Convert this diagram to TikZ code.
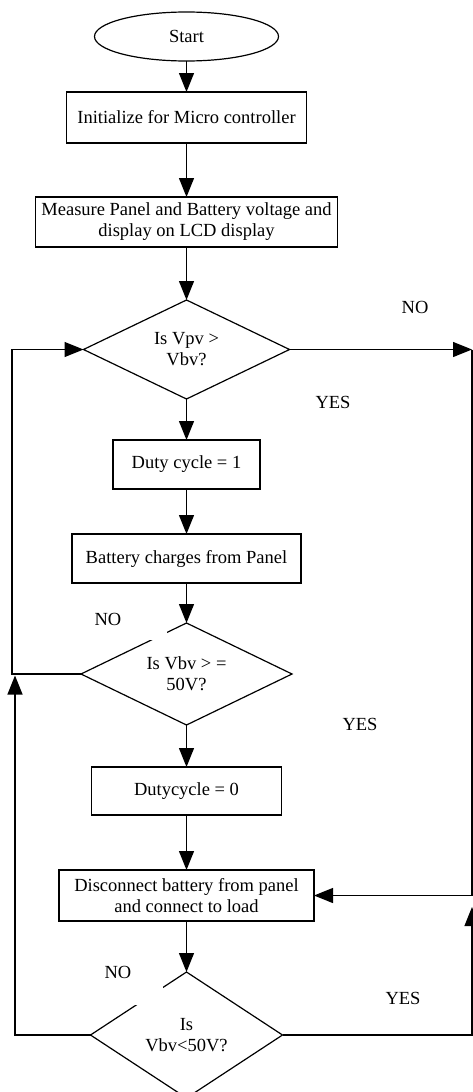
\documentclass[tikz,border=0pt]{standalone}
\usepackage{fontspec}
\setmainfont{Liberation Serif}
\usepackage{tikz}
\usetikzlibrary{arrows.meta,positioning,shapes.geometric}

\begin{document}
\begin{tikzpicture}[
  x=1pt, y=1pt,
  font=\fontsize{18.5}{21}\selectfont,
  line width=1.2pt,
  every node/.style={outer sep=0pt},
  term/.style={ellipse, draw, minimum width=184pt, minimum height=49pt, inner sep=1pt},
  stage/.style={rectangle, draw, align=center, minimum height=50pt, inner sep=2pt},
  test/.style={diamond, draw, aspect=2, align=center, inner sep=1pt},
  answer/.style={inner sep=0pt},
  arrow/.style={-{Triangle[length=19pt, width=15pt]}}
]
\useasboundingbox (0,0) rectangle (473,-1092);
\node[term] (start) at (186.5,-36.5) {Start};
\node[stage, minimum width=240pt, minimum height=51pt, below=31pt of start] (init) {Initialize for Micro controller};
\node[stage, minimum width=302pt, below=54pt of init] (meas) {Measure Panel and Battery voltage and\\display on LCD display};
\node[test, minimum width=206pt, minimum height=99pt, below=53pt of meas] (d1) {Is Vpv >\\Vbv?};
\node[stage, minimum width=147pt, minimum height=49pt, below=41pt of d1] (duty1) {Duty cycle = 1};
\node[stage, minimum width=229pt, minimum height=49pt, below=45pt of duty1] (charge) {Battery charges from Panel};
\node[test, minimum width=211pt, minimum height=102pt, below=40pt of charge] (d2) {Is Vbv > =\\50V?};
\node[stage, minimum width=190pt, minimum height=48pt, below=42pt of d2] (duty0) {Dutycycle = 0};
\node[stage, minimum width=255pt, minimum height=51pt, below=55pt of duty0] (disc) {Disconnect battery from panel\\and connect to load};
\node[test, aspect=1.5, minimum width=192pt, minimum height=126pt, below=51pt of disc] (d3) {Is\\Vbv<50V?};

\node[answer] (no1) at (415,-307) {NO};
\node[answer] (yes1) at (333,-402) {YES};
\node[answer, fill=white, minimum width=118pt, minimum height=42pt] (no2) at (108,-619) {NO};
\node[answer] (yes2) at (360,-724) {YES};
\node[answer, fill=white, minimum width=90pt, minimum height=66pt] (no3) at (118,-972) {NO};
\node[answer] (yes3) at (403,-998) {YES};

\coordinate (rx) at (472,0);
\coordinate (lx) at (12,0);
\coordinate (rup) at (472,-907);
\coordinate (lup) at (15,-675.5);

\draw[arrow] (start) -- (init);
\draw[arrow] (init) -- (meas);
\draw[arrow] (meas) -- (d1);
\draw[arrow] (d1) -- (duty1);
\draw[arrow] (duty1) -- (charge);
\draw[arrow] (charge) -- (d2);
\draw[arrow] (d2) -- (duty0);
\draw[arrow] (duty0) -- (disc);
\draw[arrow] (disc) -- (d3);
\draw[arrow] (d1.east) -- (d1.east -| rx);
\draw[arrow] (d1.east -| rx) |- (disc.east);
\draw[arrow] (d3.east) -| (rup);
\draw[arrow] (d2.west) -| (lx |- d1.west) -- (d1.west);
\draw[arrow] (d3.west) -| (lup);
\end{tikzpicture}
\end{document}
